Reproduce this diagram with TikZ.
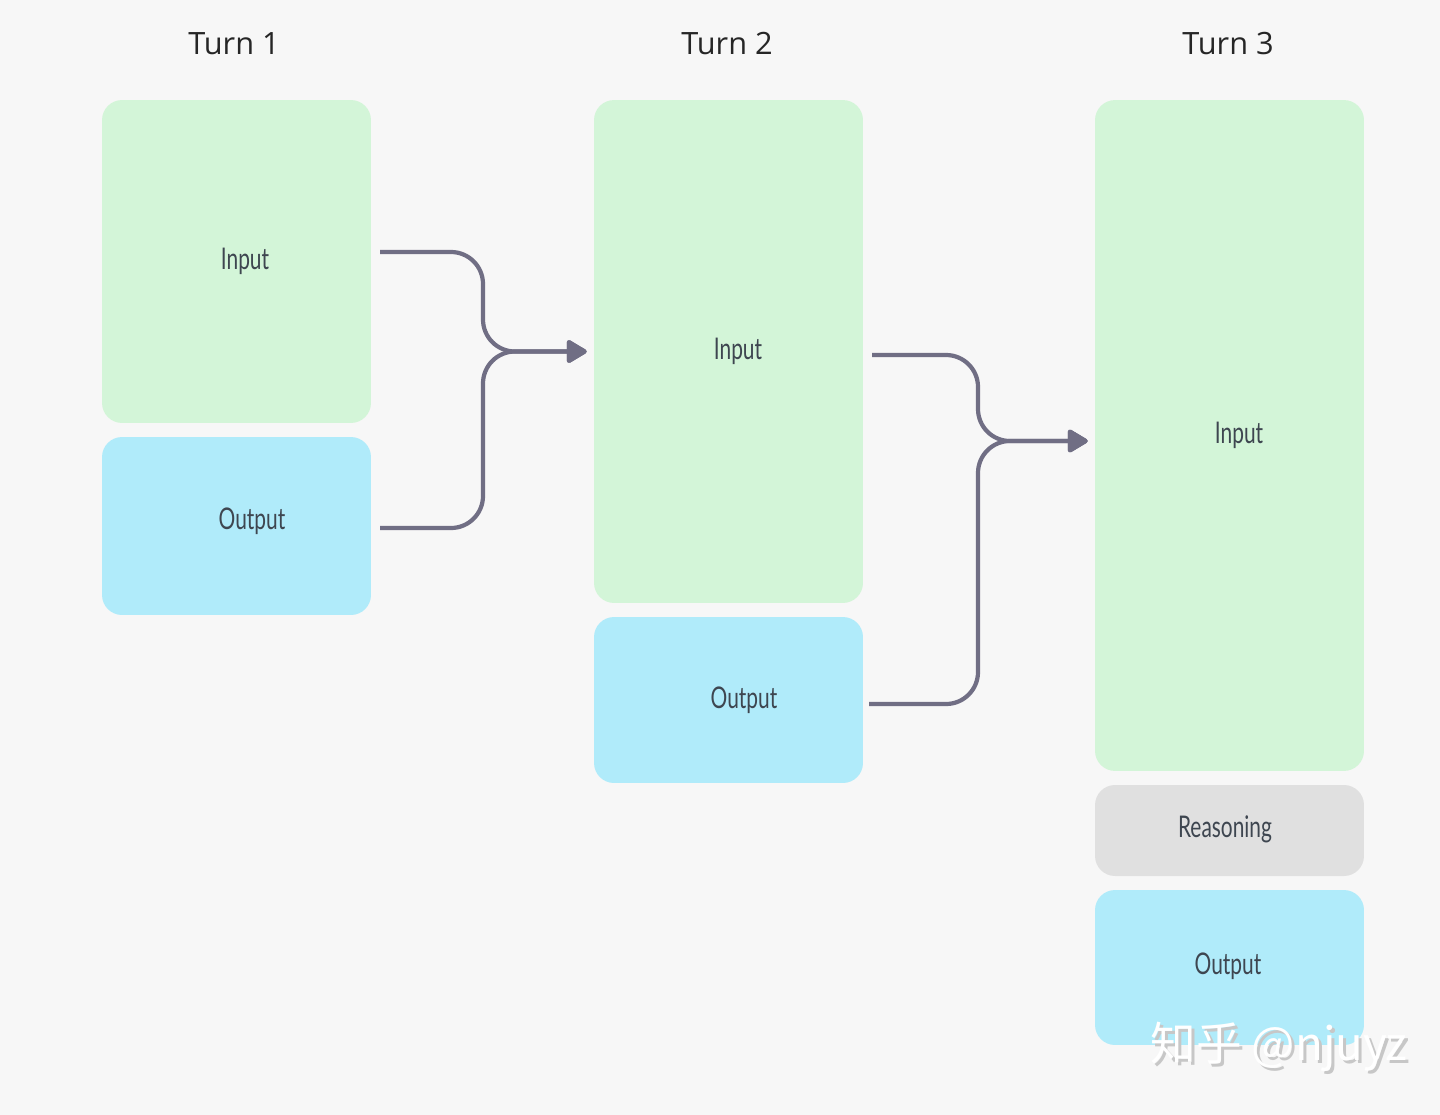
\documentclass[tikz,border=0pt]{standalone}
\usepackage{fontspec}
\setmainfont{Open Sans}
\newfontfamily\narrowfont[FakeStretch=0.7]{Lato}
\newfontfamily\cjkfont{Noto Sans CJK SC}
\usetikzlibrary{arrows.meta}
\definecolor{bgcol}{HTML}{F7F7F7}
\definecolor{ingreen}{HTML}{D3F5D8}
\definecolor{outblue}{HTML}{B0EBFA}
\definecolor{reasongray}{HTML}{E0E0E0}
\definecolor{flowcol}{RGB}{112,110,132}
\definecolor{labelcol}{HTML}{3E4650}
\newcommand{\wmtext}{知乎 @njuyz}

\begin{document}
\begin{tikzpicture}[x = 0.02cm, y = -0.02cm,
		box/.style = {rectangle, rounded corners = 0.4cm, inner sep = 0pt,
		minimum width = 5.38cm},
		inbox/.style = {box, fill = ingreen},
		outbox/.style = {box, fill = outblue},
		reasonbox/.style = {box, fill = reasongray},
		lbl/.style = {font = \narrowfont\fontsize{17}{20}\selectfont, text = labelcol},
		turn/.style = {font = \fontsize{17.5}{21}\selectfont, text = black!85},
		flow/.style = {line width = 2.4pt, draw = flowcol, rounded corners = 0.64cm,
		-{Triangle[length = 0.44cm, width = 0.5cm, round]}}]

	\fill [bgcol] (0,0) rectangle (1440,1115);
	\useasboundingbox (0,0) rectangle (1440,1115);

	\node [turn] (t_1) at (234,44) {Turn 1};
	\node [turn] (t_2) at (727,44) {Turn 2};
	\node [turn] (t_3) at (1228,44) {Turn 3};

	\node [inbox, minimum height = 6.46cm] (in_1) at (236.5,261.5) {};
	\node [outbox, minimum height = 3.56cm] (out_1) at (236.5,526) {};
	\node [inbox, minimum height = 10.06cm] (in_2) at (728.5,351.5) {};
	\node [outbox, minimum height = 3.32cm] (out_2) at (728.5,700) {};
	\node [inbox, minimum height = 13.42cm] (in_3) at (1229.5,435.5) {};
	\node [reasonbox, minimum height = 1.82cm] (rs_3) at (1229.5,830.5) {};
	\node [outbox, minimum height = 3.1cm] (out_3) at (1229.5,967.5) {};

	\node [lbl] (l_in1) at (245,261) {Input};
	\node [lbl] (l_out1) at (252,521) {Output};
	\node [lbl] (l_in2) at (738,351) {Input};
	\node [lbl] (l_out2) at (744,700) {Output};
	\node [lbl] (l_in3) at (1239,435) {Input};
	\node [lbl] (l_rs3) at (1225,829) {Reasoning};
	\node [lbl] (l_out3) at (1228,966) {Output};

	\coordinate (s_1) at (380,252);
	\coordinate (s_2) at (380,528);
	\coordinate (s_3) at (872,355);
	\coordinate (s_4) at (869,704);

	\draw [flow] (s_1) -- (483,252) -- (483,351.5) -- ([xshift = -0.14cm]in_2.west);
	\draw [flow] (s_2) -- (483,528) -- (483,351.5) -- ([xshift = -0.14cm]in_2.west);
	\draw [flow] (s_3) -- (978,355) -- (978,441) -- ([xshift = -0.14cm]in_3.west |- 0,441);
	\draw [flow] (s_4) -- (978,704) -- (978,441) -- ([xshift = -0.14cm]in_3.west |- 0,441);

	\node [font = \cjkfont\fontsize{26}{30}\selectfont, text = white] (wm) at (1279,1048)
	{\makebox[0pt][l]{\hspace{0.06cm}\raisebox{-0.06cm}{\color{black!22}\wmtext}}\wmtext};
\end{tikzpicture}
\end{document}
